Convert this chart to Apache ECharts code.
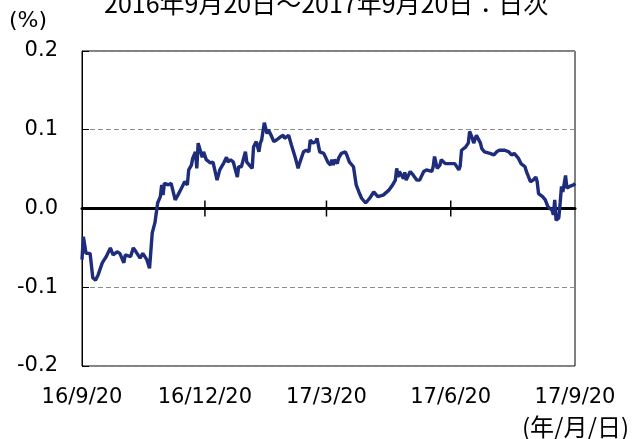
<!DOCTYPE html>
<html>
<head>
<meta charset="utf-8">
<script src="https://cdn.jsdelivr.net/npm/echarts@6/dist/echarts.min.js"></script>
<style>html,body{margin:0;padding:0;background:#fff}#c{width:638px;height:439px}</style>
</head>
<body>
<div id="c"></div>
<script>
const titleText = '2016年9月20日～2017年9月20日：日次';
const yUnit = '(%)';
const xUnit = '(年/月/日)';
const xTickDates = ['2016-09-20','2016-12-20','2017-03-20','2017-06-20','2017-09-20'];
const dates = [
'2016-09-20','2016-09-21','2016-09-23','2016-09-26','2016-09-28','2016-09-30','2016-10-02','2016-10-05','2016-10-08','2016-10-11',
'2016-10-13','2016-10-16','2016-10-18','2016-10-21','2016-10-22','2016-10-26','2016-10-28','2016-10-30','2016-11-02','2016-11-04',
'2016-11-07','2016-11-09','2016-11-11','2016-11-13','2016-11-15','2016-11-17','2016-11-18','2016-11-19','2016-11-20','2016-11-23',
'2016-11-25','2016-11-28','2016-11-30','2016-12-03','2016-12-05','2016-12-07','2016-12-08','2016-12-10','2016-12-11','2016-12-13',
'2016-12-14','2016-12-15','2016-12-16','2016-12-18','2016-12-19','2016-12-21','2016-12-24','2016-12-26','2016-12-29','2016-12-31',
'2017-01-03','2017-01-05','2017-01-06','2017-01-08','2017-01-10','2017-01-13','2017-01-14','2017-01-16','2017-01-17','2017-01-19',
'2017-01-20','2017-01-24','2017-01-25','2017-01-27','2017-01-29','2017-01-30','2017-01-31','2017-02-01','2017-02-02','2017-02-04',
'2017-02-05','2017-02-07','2017-02-09','2017-02-11','2017-02-14','2017-02-16','2017-02-17','2017-02-20','2017-02-21','2017-02-22',
'2017-02-25','2017-02-27','2017-02-28','2017-03-03','2017-03-05','2017-03-07','2017-03-08','2017-03-09','2017-03-10','2017-03-12',
'2017-03-13','2017-03-15','2017-03-18','2017-03-19','2017-03-21','2017-03-23','2017-03-24','2017-03-25','2017-03-26','2017-03-28',
'2017-03-29','2017-03-30','2017-03-31','2017-04-03','2017-04-04','2017-04-06','2017-04-09','2017-04-10','2017-04-11','2017-04-13',
'2017-04-15','2017-04-18','2017-04-19','2017-04-21','2017-04-24','2017-04-25','2017-04-27','2017-05-01','2017-05-05','2017-05-08',
'2017-05-10','2017-05-11','2017-05-12','2017-05-13','2017-05-16','2017-05-17','2017-05-18','2017-05-21','2017-05-23','2017-05-26',
'2017-05-28','2017-05-31','2017-06-02','2017-06-03','2017-06-06','2017-06-07','2017-06-08','2017-06-10','2017-06-12','2017-06-13',
'2017-06-16','2017-06-19','2017-06-23','2017-06-26','2017-06-27','2017-06-28','2017-07-01','2017-07-03','2017-07-04','2017-07-06',
'2017-07-07','2017-07-09','2017-07-10','2017-07-12','2017-07-13','2017-07-15','2017-07-19','2017-07-22','2017-07-24','2017-07-26',
'2017-07-30','2017-08-02','2017-08-04','2017-08-06','2017-08-07','2017-08-09','2017-08-11','2017-08-14','2017-08-15','2017-08-16',
'2017-08-18','2017-08-20','2017-08-22','2017-08-23','2017-08-24','2017-08-27','2017-08-29','2017-08-31','2017-09-03','2017-09-04',
'2017-09-05','2017-09-06','2017-09-08','2017-09-09','2017-09-10','2017-09-11','2017-09-13','2017-09-14','2017-09-16','2017-09-19',
'2017-09-20'
];
const values = [
-0.065,-0.036,-0.057,-0.057,-0.088,-0.091,-0.084,-0.069,-0.061,-0.050,
-0.059,-0.055,-0.057,-0.069,-0.059,-0.061,-0.050,-0.055,-0.063,-0.057,
-0.065,-0.076,-0.031,-0.018,0.007,0.015,0.030,0.017,0.032,0.030,
0.032,0.011,0.017,0.027,0.034,0.030,0.049,0.055,0.064,0.072,
0.051,0.083,0.081,0.065,0.072,0.062,0.058,0.059,0.036,0.049,
0.058,0.065,0.059,0.062,0.059,0.040,0.053,0.053,0.053,0.072,
0.059,0.051,0.078,0.085,0.072,0.083,0.087,0.098,0.109,0.095,
0.100,0.093,0.085,0.087,0.091,0.093,0.089,0.093,0.093,0.081,
0.064,0.051,0.057,0.072,0.074,0.072,0.087,0.089,0.083,0.085,
0.089,0.072,0.070,0.068,0.059,0.055,0.062,0.055,0.062,0.057,
0.064,0.066,0.070,0.072,0.068,0.059,0.053,0.051,0.030,0.021,
0.013,0.007,0.007,0.013,0.021,0.019,0.015,0.017,0.023,0.030,
0.036,0.051,0.040,0.047,0.038,0.046,0.036,0.047,0.043,0.036,
0.036,0.047,0.049,0.051,0.047,0.053,0.066,0.051,0.055,0.062,
0.057,0.057,0.057,0.049,0.054,0.074,0.078,0.083,0.098,0.089,
0.083,0.093,0.091,0.083,0.076,0.072,0.070,0.068,0.072,0.074,
0.074,0.072,0.068,0.070,0.072,0.064,0.057,0.053,0.047,0.049,
0.034,0.036,0.040,0.034,0.019,0.015,0.011,0.002,-0.002,-0.008,
0.011,-0.015,-0.012,0.007,0.028,0.021,0.042,0.026,0.028,0.030,
0.032
];
const yMin = -0.2, yMax = 0.2, yStep = 0.1;

function toTs(s){const p=s.split('-').map(Number);return new Date(p[0],p[1]-1,p[2]).getTime();}
const seriesData = dates.map((d,i)=>[toTs(d), values[i]]);
const tickTs = xTickDates.map(toTs);
const innerTicks = tickTs.slice(1, tickTs.length-1);
function fmt(v){const d=new Date(v);return String(d.getFullYear()).slice(2)+'/'+(d.getMonth()+1)+'/'+d.getDate();}

const FONT = 'DejaVu Sans, Verdana, sans-serif';
const chart = echarts.init(document.getElementById('c'), null, {renderer:'canvas'});
chart.setOption({
  animation:false,
  backgroundColor:'#fff',
  grid:{left:82, right:63, top:51, bottom:73, show:true, borderColor:'#000', borderWidth:1, backgroundColor:'transparent'},
  graphic:[
    {type:'text', left:104, top:-9, style:{text:titleText, font:'25px "Noto Sans CJK JP", sans-serif', fill:'#000'}},
    {type:'text', left:9, top:10, style:{text:yUnit, font:'22px '+FONT, fill:'#000'}},
    {type:'text', right:9, top:415, style:{text:xUnit, font:'24px "Noto Sans CJK JP", '+FONT, fill:'#000'}}
  ],
  xAxis:[
    {type:'value', min:tickTs[0], max:tickTs[tickTs.length-1], splitLine:{show:false},
      axisLine:{onZero:true, lineStyle:{color:'#000', width:3}}, axisTick:{show:false}, axisLabel:{show:false}},
    {type:'value', min:tickTs[0], max:tickTs[tickTs.length-1], splitLine:{show:false}, position:'bottom', offset:0,
      axisLine:{onZero:false, show:false}, axisTick:{show:false},
      axisLabel:{show:true, customValues:tickTs, formatter:fmt, color:'#000', fontSize:21, fontFamily:FONT, margin:21, hideOverlap:false, showMinLabel:true, showMaxLabel:true}}
  ],
  yAxis:{type:'value', min:yMin, max:yMax, interval:yStep,
    axisLine:{show:true, onZero:false, lineStyle:{color:'#000', width:1}},
    axisTick:{show:true, inside:true, length:7, lineStyle:{color:'#000'}},
    axisLabel:{color:'#000', fontSize:21, fontFamily:FONT, margin:24, formatter:v=>v.toFixed(1)},
    splitLine:{show:true, lineStyle:{color:'#8c8c8c', type:[5,3], width:1}}
  },
  series:[
    {type:'line', xAxisIndex:0, data:seriesData, showSymbol:false, symbol:'none',
      lineStyle:{color:'#1e2c7c', width:3.4}, z:3},
    {type:'custom', xAxisIndex:0, data:innerTicks.map(t=>[t,0]), z:4, silent:true,
      renderItem:function(params, api){
        const p = api.coord([api.value(0), api.value(1)]);
        return {type:'line', shape:{x1:p[0], y1:p[1]-8, x2:p[0], y2:p[1]+8}, style:{stroke:'#000', lineWidth:1.5}};
      }}
  ]
});
</script>
</body>
</html>
